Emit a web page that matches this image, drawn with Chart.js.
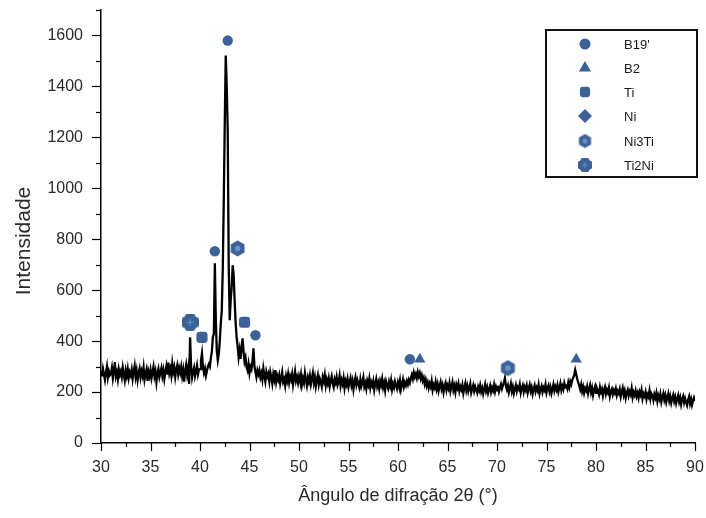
<!DOCTYPE html>
<html><head><meta charset="utf-8">
<script src="https://cdn.jsdelivr.net/npm/chart.js@4"></script>
<style>html,body{margin:0;padding:0;background:#fff}#wrap{width:706px;height:518px;position:relative}</style>
</head><body><div id="wrap"><canvas id="c" width="706" height="518"></canvas></div>
<script>
// ---- data ----
const angleStart = 30;
const angleStep = 0.1;
const intensity = [
285,262,291,270,248,276,300,258,281,266,
272,295,255,283,318,262,277,250,289,268,
281,259,296,271,247,284,263,290,256,278,
266,288,252,279,303,261,284,247,275,292,
258,281,264,296,250,273,289,244,279,262,
286,255,277,299,262,281,240,274,291,259,
276,294,263,285,252,279,301,268,316,275,
292,266,311,279,297,260,288,305,271,294,
276,299,263,287,241,282,306,270,295,232,
415,300,258,281,296,262,279,303,270,289,
290,325,352,300,276,292,265,283,301,310,
300,335,360,415,430,706,480,360,325,350,
400,470,520,680,950,1250,1521,1400,1227,700,
482,560,612,698,660,560,470,415,380,337,
365,330,376,411,360,320,335,298,285,310,
275,300,290,320,372,300,280,259,285,270,
285,258,274,250,292,265,242,279,261,272,
243,278,258,234,269,250,286,241,263,248,
266,234,255,278,240,251,226,262,244,270,
238,262,248,270,229,255,281,244,259,237,
262,244,269,230,253,237,275,248,226,257,
240,264,231,253,275,237,258,223,248,266,
230,252,239,221,258,243,267,226,249,233,
254,223,245,262,234,219,250,237,259,228,
241,264,225,247,232,255,217,243,229,251,
220,238,255,226,244,211,239,257,228,246,
231,217,249,224,240,258,221,235,213,244,
229,252,217,238,225,243,209,234,251,222,
237,214,243,228,251,219,236,207,241,226,
214,240,223,246,211,232,218,241,226,213,
238,223,246,212,231,249,221,237,226,243,
230,248,236,254,268,252,276,259,271,255,
278,262,275,253,266,244,256,232,248,225,
238,216,233,221,243,209,228,217,240,213,
231,205,224,239,212,227,200,223,236,208,
226,214,235,203,220,238,208,224,200,229,
216,233,204,221,210,228,196,217,234,206,
224,202,217,233,198,213,227,204,221,209,
197,220,207,226,202,216,193,212,230,204,
219,196,211,225,200,217,206,228,202,220,
207,225,203,218,231,213,227,237,255,224,
210,225,199,216,233,203,220,195,212,227,
203,219,211,230,198,216,227,201,220,208,
225,197,214,229,204,218,193,212,226,202,
217,206,228,195,213,224,200,217,208,229,
198,215,226,203,219,195,211,230,205,221,
209,227,201,218,234,207,223,211,235,220,
224,213,237,219,241,230,247,256,268,287,
270,252,238,226,211,229,203,220,197,215,
206,222,194,211,227,199,216,188,208,221,
197,214,204,191,219,201,212,186,208,220,
193,209,198,216,184,203,212,191,207,197,
213,188,204,195,211,182,200,216,189,205,
177,198,209,186,202,191,214,180,199,188,
205,183,196,177,201,189,208,175,193,184,
200,172,190,181,205,174,194,186,168,191,
178,196,165,186,173,192,162,181,195,170,
187,161,179,194,166,183,158,176,189,164,
180,156,173,187,162,178,152,171,183,159,
175,160,148,169,182,155,172,150,166,178,
165
];
const angles = intensity.map((_, i) => +(angleStart + i * angleStep).toFixed(1));

// phase markers (angle, height of marker)
const phaseNames = ["B19'", "B2", "Ti", "Ni", "Ni3Ti", "Ti2Ni"];
const b19Angles = [41.5, 42.8, 45.6, 61.2];
const b19Heights = [753, 1580, 423, 329];
const b2Angles = [62.2, 78.0];
const b2Heights = [329, 329];
const tiAngles = [40.2, 44.5];
const tiHeights = [415, 474];
const niAngles = [];
const niHeights = [];
const ni3tiAngles = [43.8, 71.1];
const ni3tiHeights = [764, 294];
const ti2niAngles = [39.0];
const ti2niHeights = [474];

const xMin = 30, xMax = 90, xStep = 2.5, xLabelEvery = 5;
const yMin = 0, yMax = 1700, yStep = 100, yLabelEvery = 200;
const xTitle = 'Ângulo de difração 2θ (°)';
const yTitle = 'Intensidade';

// ---- styling ----
const MARK = '#3b6196';
const MARK_LIGHT = '#6790c8';
const FONT = '"Liberation Sans", Arial, sans-serif';

function makeHex(d) {
  const c = document.createElement('canvas'); c.width = c.height = d;
  const g = c.getContext('2d'); const r = d / 2;
  g.fillStyle = MARK; g.beginPath();
  for (let k = 0; k < 6; k++) {
    const a = Math.PI / 3 * k - Math.PI / 2;
    const px = r + (r - 0.5) * Math.cos(a), py = r + (r - 0.5) * Math.sin(a);
    k ? g.lineTo(px, py) : g.moveTo(px, py);
  }
  g.closePath(); g.fill();
  g.fillStyle = MARK_LIGHT; g.beginPath(); g.arc(r, r, d * 0.17, 0, Math.PI * 2); g.fill();
  return c;
}
function makeCross(d) {
  const c = document.createElement('canvas'); c.width = c.height = d;
  const g = c.getContext('2d');
  g.fillStyle = MARK;
  const a = d * 0.62, o = (d - a) / 2, rr = d * 0.14;
  g.beginPath(); g.roundRect(0, o, d, a, rr); g.fill();
  g.beginPath(); g.roundRect(o, 0, a, d, rr); g.fill();
  g.beginPath(); g.roundRect(d * 0.1, d * 0.1, d * 0.8, d * 0.8, d * 0.25); g.fill();
  g.strokeStyle = MARK_LIGHT; g.lineWidth = 1;
  g.beginPath(); g.moveTo(d / 2, d * 0.3); g.lineTo(d / 2, d * 0.7);
  g.moveTo(d * 0.3, d / 2); g.lineTo(d * 0.7, d / 2); g.stroke();
  return c;
}
const hexBig = makeHex(17), hexSmall = makeHex(15);
const crossBig = makeCross(17), crossSmall = makeCross(14);

function pts(xs, ys) { return xs.map((x, i) => ({ x, y: ys[i] })); }

const markerSets = [
  { label: phaseNames[0], data: pts(b19Angles, b19Heights), pointStyle: 'circle', pointRadius: 5.2 },
  { label: phaseNames[1], data: pts(b2Angles, b2Heights), pointStyle: 'triangle', pointRadius: 6.5 },
  { label: phaseNames[2], data: pts(tiAngles, tiHeights), pointStyle: 'rectRounded', pointRadius: 6.5 },
  { label: phaseNames[3], data: pts(niAngles, niHeights), pointStyle: 'rectRot', pointRadius: 6.5 },
  { label: phaseNames[4], data: pts(ni3tiAngles, ni3tiHeights), pointStyle: hexBig, pointRadius: 8 },
  { label: phaseNames[5], data: pts(ti2niAngles, ti2niHeights), pointStyle: crossBig, pointRadius: 8 },
].map(d => Object.assign(d, { showLine: false, backgroundColor: MARK, borderColor: MARK, borderWidth: 0, order: 0 }));

const legendStyles = [
  { style: 'circle', r: 5.5 }, { style: 'triangle', r: 7 }, { style: 'rectRounded', r: 6 },
  { style: 'rectRot', r: 7 }, { style: hexSmall, r: 7 }, { style: crossSmall, r: 7 }
];

const tickPlugin = {
  id: 'tickMarks',
  afterDraw(chart) {
    const { ctx, scales: { x, y } } = chart;
    ctx.save(); ctx.strokeStyle = '#000'; ctx.lineWidth = 1.2;
    x.ticks.forEach(t => {
      const px = Math.round(x.getPixelForValue(t.value)) + 0.5;
      const major = Math.abs(t.value % xLabelEvery) < 1e-6;
      ctx.beginPath(); ctx.moveTo(px, x.top); ctx.lineTo(px, x.top + (major ? 8 : 4)); ctx.stroke();
    });
    y.ticks.forEach(t => {
      const py = Math.round(y.getPixelForValue(t.value)) + 0.5;
      const major = Math.abs(t.value % yLabelEvery) < 1e-6;
      ctx.beginPath(); ctx.moveTo(y.right, py); ctx.lineTo(y.right - (major ? 9 : 5), py); ctx.stroke();
    });
    // y title
    ctx.save();
    ctx.translate(24, 241); ctx.rotate(-Math.PI / 2);
    ctx.fillStyle = '#2a2a2a'; ctx.font = '21px ' + FONT;
    ctx.textAlign = 'center'; ctx.textBaseline = 'middle';
    ctx.fillText(yTitle, 0, 0);
    ctx.restore();
    ctx.restore();
  }
};

const legendPlugin = {
  id: 'boxLegend',
  afterDraw(chart) {
    const ctx = chart.ctx;
    const bx = 546, by = 30, bw = 151, bh = 147;
    ctx.save();
    ctx.fillStyle = '#fff'; ctx.fillRect(bx, by, bw, bh);
    ctx.strokeStyle = '#111'; ctx.lineWidth = 2; ctx.strokeRect(bx, by, bw, bh);
    const rows = [44, 68, 92, 116, 141, 165];
    phaseNames.forEach((name, i) => {
      ctx.fillStyle = MARK; ctx.strokeStyle = MARK;
      Chart.helpers.drawPoint(ctx, { pointStyle: legendStyles[i].style, radius: legendStyles[i].r, rotation: 0, borderWidth: 0 }, 585, rows[i]);
      ctx.fillStyle = '#1a1a1a'; ctx.font = '13px ' + FONT;
      ctx.textBaseline = 'middle'; ctx.textAlign = 'left';
      ctx.fillText(name, 624, rows[i] + 1);
    });
    ctx.restore();
  }
};

new Chart(document.getElementById('c'), {
  type: 'scatter',
  data: {
    datasets: [
      ...markerSets,
      {
        label: 'XRD', data: pts(angles, intensity), showLine: true, pointRadius: 0,
        borderColor: '#000', borderWidth: 2.3, tension: 0, order: 1
      }
    ]
  },
  options: {
    responsive: false, animation: false, devicePixelRatio: 1,
    layout: { padding: { left: 0, top: 10, right: 11, bottom: 0 } },
    plugins: { legend: { display: false }, tooltip: { enabled: false } },
    scales: {
      x: {
        type: 'linear', min: xMin, max: xMax,
        afterFit(s) { s.height = 75; s.paddingLeft = 0; s.paddingRight = 0; },
        grid: { display: false, drawTicks: true, tickLength: 8 },
        border: { display: true, color: '#000', width: 1.5 },
        ticks: {
          stepSize: xStep, autoSkip: false, maxRotation: 0, padding: 7,
          color: '#2a2a2a', font: { family: FONT, size: 16 },
          callback: v => (Math.abs(v % xLabelEvery) < 1e-6 ? String(v) : '')
        },
        title: {
          display: true, text: xTitle, color: '#2a2a2a',
          font: { family: FONT, size: 18 }, padding: { top: 0, bottom: 11 }
        }
      },
      y: {
        type: 'linear', min: yMin, max: yMax,
        afterFit(s) { s.width = 101; s.paddingTop = 0; s.paddingBottom = 0; },
        grid: { display: false, drawTicks: true, tickLength: 9 },
        border: { display: true, color: '#000', width: 1.5 },
        ticks: {
          stepSize: yStep, autoSkip: false, padding: 9,
          color: '#2a2a2a', font: { family: FONT, size: 16 },
          callback: v => (Math.abs(v % yLabelEvery) < 1e-6 ? String(v) : '')
        }
      }
    }
  },
  plugins: [tickPlugin, legendPlugin]
});
</script>
</body></html>
